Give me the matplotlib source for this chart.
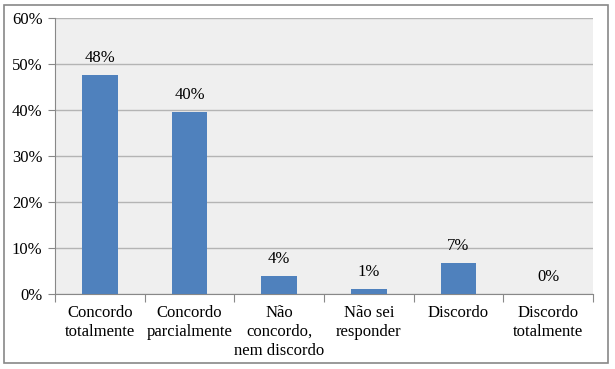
import matplotlib.pyplot as plt
import numpy as np
from matplotlib.patches import Rectangle

plt.rcParams['font.family'] = ['Liberation Serif', 'DejaVu Serif']
plt.rcParams['font.size'] = 12

# dados
categorias = ["Concordo\ntotalmente", "Concordo\nparcialmente", "Não\nconcordo,\nnem discordo",
              "Não sei\nresponder", "Discordo", "Discordo\ntotalmente"]
valores = [47.6, 39.6, 3.9, 1.1, 6.7, 0.0]
rotulos = ["48%", "40%", "4%", "1%", "7%", "0%"]
yticks = [0, 10, 20, 30, 40, 50, 60]

fig = plt.figure(figsize=(6.15, 3.69), dpi=100)
ax = fig.add_axes([55 / 615, 1 - 294 / 369, 538 / 615, 276 / 369])
ax.set_facecolor('#efefef')

x = np.arange(len(categorias))
ax.bar(x, valores, width=0.4, color='#4f81bd', zorder=3)
for xi, v, r in zip(x, valores, rotulos):
    ax.annotate(r, (xi, v), xytext=(0, 6.5), textcoords='offset points',
                ha='center', va='bottom')

ax.set_xlim(-0.5, len(categorias) - 0.5)
ax.set_ylim(0, 60)
ax.set_yticks(yticks)
ax.set_yticklabels([f"{t}%" for t in yticks])
ax.yaxis.grid(True, color='#b4b4b4', linewidth=1, zorder=0)

# marcas do eixo x nas divisas das categorias
ax.set_xticks(np.arange(-0.5, len(categorias), 1.0))
ax.set_xticklabels([])
ax.set_xticks(x, minor=True)
ax.set_xticklabels(categorias, minor=True, linespacing=1.25)
ax.tick_params(axis='x', which='minor', length=0, pad=8)
ax.tick_params(axis='x', which='major', length=6, color='#888888')
ax.tick_params(axis='y', length=5, color='#888888', pad=4)

for s in ['top', 'right']:
    ax.spines[s].set_visible(False)
ax.spines['left'].set_color('#888888')
ax.spines['bottom'].set_color('#888888')

# moldura externa
fig.patches.append(Rectangle((4 / 615, 1 - 363 / 369), 604 / 615, 358 / 369,
                             transform=fig.transFigure, fill=False,
                             edgecolor='#888888', linewidth=1.2))

plt.savefig('out.png', dpi=100)
plt.close()
